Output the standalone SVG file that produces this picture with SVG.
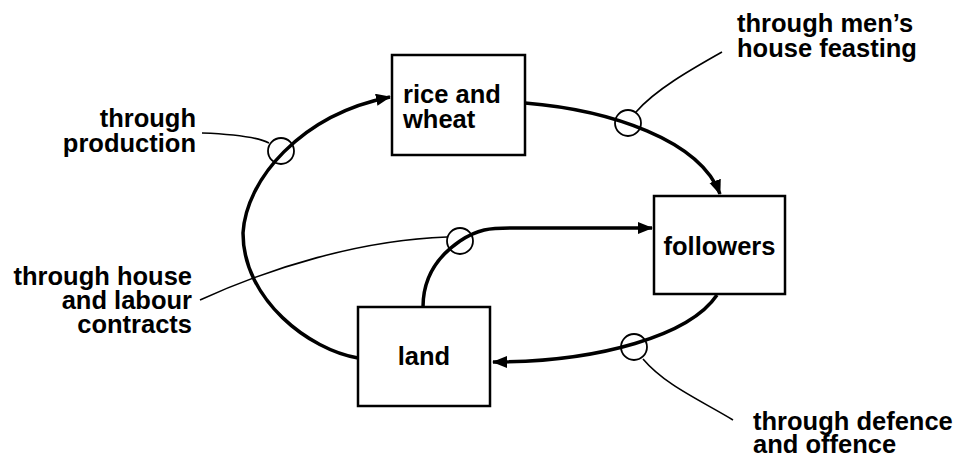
<svg xmlns="http://www.w3.org/2000/svg" width="964" height="458" viewBox="0 0 964 458">
<style>
  text { font-family: "Liberation Sans", Arial, sans-serif; font-weight: bold; font-size: 25.5px; fill: #000; }
  .box { fill: #fff; stroke: #000; stroke-width: 2.5; }
  .flow { fill: none; stroke: #000; stroke-width: 3.5; }
  .lead { fill: none; stroke: #000; stroke-width: 1.6; }
  .ring { fill: none; stroke: #000; stroke-width: 1.8; }
</style>
<defs>
  <marker id="arrow" markerUnits="userSpaceOnUse" markerWidth="16" markerHeight="14" refX="14" refY="6" orient="auto">
    <path d="M0,0 L15,6 L0,12 z" fill="#000"/>
  </marker>
</defs>
<rect width="964" height="458" fill="#fff"/>
<g id="connectors">
  <path class="flow" d="M358,358 C310,350 243,300 243,233 C246,180 300,115 390,97" marker-end="url(#arrow)"/>
  <path class="flow" d="M525,103 C610,110 700,140 720,194" marker-end="url(#arrow)"/>
  <path class="flow" d="M717,295 C690,335 600,362 493,362" marker-end="url(#arrow)"/>
  <path class="flow" d="M423,307 C423,280 435,258 460,241 C478,229 490,228 510,228 L652,228" marker-end="url(#arrow)"/>
  <path class="lead" d="M202,133 C230,134 255,136 269,143"/>
  <path class="lead" d="M722,52 C690,70 655,90 636,112"/>
  <path class="lead" d="M200,300 C270,268 360,240 447,237"/>
  <path class="lead" d="M643,359 C665,385 700,400 733,420"/>
  <circle class="ring" cx="281" cy="151" r="13"/>
  <circle class="ring" cx="628" cy="123" r="13"/>
  <circle class="ring" cx="460" cy="241" r="13"/>
  <circle class="ring" cx="634" cy="347" r="13"/>
</g>
<g id="rice">
  <rect class="box" x="392" y="55" width="133" height="100"/>
  <text x="403" y="103">rice and</text>
  <text x="403" y="128">wheat</text>
</g>
<g id="followers">
  <rect class="box" x="654" y="196" width="131" height="98"/>
  <text x="719.5" y="255" text-anchor="middle">followers</text>
</g>
<g id="land">
  <rect class="box" x="358" y="307" width="132" height="99"/>
  <text x="424" y="365" text-anchor="middle">land</text>
</g>
<g id="label-production">
  <text x="196" y="127" text-anchor="end">through</text>
  <text x="196" y="152" text-anchor="end">production</text>
</g>
<g id="label-feasting">
  <text x="737" y="32">through men’s</text>
  <text x="737" y="57">house feasting</text>
</g>
<g id="label-contracts">
  <text x="192" y="285" text-anchor="end">through house</text>
  <text x="192" y="309" text-anchor="end">and labour</text>
  <text x="192" y="333" text-anchor="end">contracts</text>
</g>
<g id="label-defence">
  <text x="753" y="430">through defence</text>
  <text x="753" y="453">and offence</text>
</g>
</svg>
